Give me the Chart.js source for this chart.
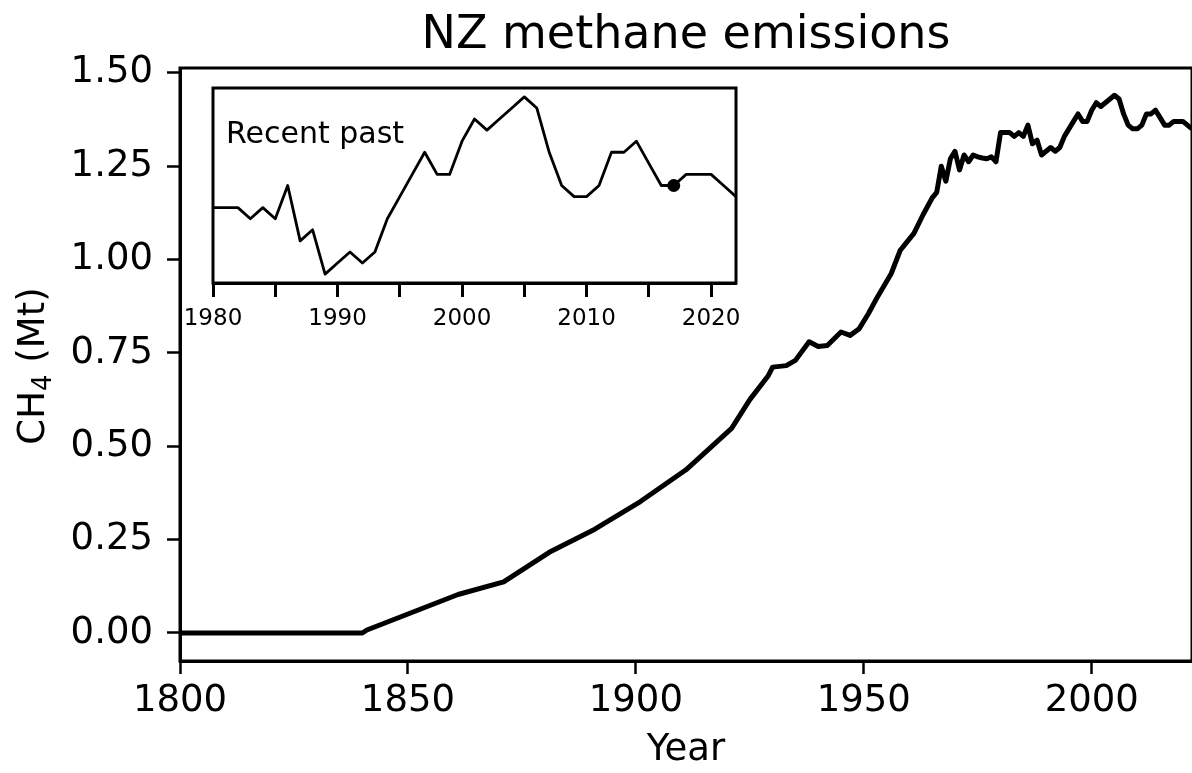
<!DOCTYPE html>
<html>
<head>
<meta charset="utf-8">
<script src="https://cdn.jsdelivr.net/npm/chart.js@4.4.1/dist/chart.umd.min.js"></script>
<style>
  body { margin: 0; background: #fff; }
  #wrap { position: relative; width: 1192px; height: 773px; }
  #main-chart { position: absolute; left: 0; top: 0; }
  #inset-chart { position: absolute; left: 170px; top: 78px; }
</style>
</head>
<body>
<div id="wrap">
  <canvas id="main-chart" width="1192" height="773"></canvas>
  <canvas id="inset-chart" width="600" height="262"></canvas>
</div>
<script>
// historic part of the series (Mt CH4)
const historicYears = [1800, 1840, 1841, 1861, 1871, 1881, 1891, 1901, 1911, 1921, 1925, 1929, 1930,
  1933, 1935, 1938, 1940, 1942, 1945, 1947, 1949, 1951, 1953, 1956, 1958, 1959, 1961, 1963,
  1965, 1966, 1967, 1968, 1969, 1970, 1971, 1972, 1973, 1974, 1975, 1976, 1977, 1978, 1979];
const historicValues = [0, 0, 0.008, 0.103, 0.137, 0.216, 0.278, 0.352, 0.437, 0.548, 0.625, 0.688, 0.712,
  0.716, 0.73, 0.78, 0.767, 0.77, 0.806, 0.797, 0.815, 0.855, 0.9, 0.962, 1.025, 1.04, 1.07, 1.12,
  1.165, 1.18, 1.25, 1.21, 1.27, 1.29, 1.24, 1.28, 1.262, 1.28, 1.275, 1.272, 1.27, 1.275, 1.262];

// recent past, yearly (also shown in the inset)
const recentYears = [1980, 1981, 1982, 1983, 1984, 1985, 1986, 1987, 1988, 1989, 1990, 1991, 1992,
  1993, 1994, 1995, 1996, 1997, 1998, 1999, 2000, 2001, 2002, 2003, 2004, 2005, 2006, 2007, 2008,
  2009, 2010, 2011, 2012, 2013, 2014, 2015, 2016, 2017, 2018, 2019, 2020, 2021, 2022];
const recentValues = [1.34, 1.34, 1.34, 1.33, 1.34, 1.33, 1.36, 1.31, 1.32, 1.28, 1.29, 1.30, 1.29,
  1.30, 1.33, 1.35, 1.37, 1.39, 1.37, 1.37, 1.40, 1.42, 1.41, 1.42, 1.43, 1.44, 1.43, 1.39, 1.36,
  1.35, 1.35, 1.36, 1.39, 1.39, 1.40, 1.38, 1.36, 1.36, 1.37, 1.37, 1.37, 1.36, 1.35];

const markerYear = 2017;
const markerValue = 1.36;

const yTicks = [0, 0.25, 0.5, 0.75, 1.0, 1.25, 1.5];
const xTicks = [1800, 1850, 1900, 1950, 2000];
const insetTicks = [1980, 1985, 1990, 1995, 2000, 2005, 2010, 2015, 2020];
const insetTickLabels = ["1980", "", "1990", "", "2000", "", "2010", "", "2020"];

const FONT = "'DejaVu Sans', sans-serif";

const toPoints = (xs, ys) => xs.map((x, i) => ({ x: x, y: ys[i] }));

const frame = {
  id: "frame",
  afterDraw(chart) {
    const { ctx, chartArea: a } = chart;
    ctx.save();
    ctx.strokeStyle = "#000";
    ctx.lineWidth = 3;
    ctx.strokeRect(a.left, a.top, a.right - a.left, a.bottom - a.top);
    ctx.restore();
  },
};

new Chart(document.getElementById("main-chart"), {
  type: "line",
  data: {
    datasets: [
      {
        data: toPoints(historicYears.concat(recentYears), historicValues.concat(recentValues)),
        borderColor: "#000",
        borderWidth: 5,
        borderJoinStyle: "round",
        pointRadius: 0,
        tension: 0,
      },
    ],
  },
  options: {
    responsive: false,
    animation: false,
    devicePixelRatio: 1,
    layout: { padding: { top: 68, left: 0, right: 0, bottom: 0 } },
    plugins: { legend: { display: false }, tooltip: { enabled: false } },
    scales: {
      x: {
        type: "linear",
        min: 1800,
        max: 2022,
        afterBuildTicks: (s) => { s.ticks = xTicks.map((v) => ({ value: v })); },
        afterFit: (s) => { s.height = 112; },
        ticks: {
          font: { family: FONT, size: 37 },
          color: "#000",
          padding: 5,
          maxRotation: 0,
          autoSkip: false,
          callback: (v) => String(v),
        },
        grid: { drawOnChartArea: false, tickLength: 13, tickWidth: 2.5, tickColor: "#000" },
        border: { color: "#000", width: 3 },
        title: {
          display: true,
          text: "Year",
          font: { family: FONT, size: 37 },
          color: "#000",
          padding: { top: 0, bottom: 0 },
        },
      },
      y: {
        type: "linear",
        min: -0.075,
        max: 1.513,
        afterBuildTicks: (s) => { s.ticks = yTicks.map((v) => ({ value: v })); },
        afterFit: (s) => { s.width = 180; },
        ticks: {
          font: { family: FONT, size: 37 },
          color: "#000",
          padding: 14,
          callback: (v) => v.toFixed(2),
        },
        grid: { drawOnChartArea: false, tickLength: 13, tickWidth: 2.5, tickColor: "#000" },
        border: { color: "#000", width: 3 },
      },
    },
  },
  plugins: [
    frame,
    {
      id: "mainTitle",
      afterDraw(chart) {
        const { ctx } = chart;
        ctx.save();
        ctx.font = "46px " + FONT;
        ctx.fillStyle = "#000";
        ctx.textAlign = "center";
        ctx.textBaseline = "alphabetic";
        ctx.fillText("NZ methane emissions", 686, 48);
        ctx.restore();
      },
    },
    {
      // y label "CH4 (Mt)" with a real-size subscript, like mathtext
      id: "yLabel",
      afterDraw(chart) {
        const { ctx } = chart;
        const big = "37px " + FONT;
        const small = "26px " + FONT;
        ctx.save();
        ctx.font = big;
        const wCH = ctx.measureText("CH").width;
        const wRest = ctx.measureText(" (Mt)").width;
        ctx.font = small;
        const w4 = ctx.measureText("4").width;
        const total = wCH + w4 + wRest;
        ctx.translate(44, 366);
        ctx.rotate(-Math.PI / 2);
        ctx.fillStyle = "#000";
        ctx.textAlign = "left";
        ctx.textBaseline = "alphabetic";
        let x = -total / 2;
        ctx.font = big;
        ctx.fillText("CH", x, 0);
        x += wCH;
        ctx.font = small;
        ctx.fillText("4", x, 7);
        x += w4;
        ctx.font = big;
        ctx.fillText(" (Mt)", x, 0);
        ctx.restore();
      },
    },
  ],
});

new Chart(document.getElementById("inset-chart"), {
  type: "line",
  data: {
    datasets: [
      {
        data: toPoints(recentYears, recentValues),
        borderColor: "#000",
        borderWidth: 2.8,
        borderJoinStyle: "round",
        pointRadius: 0,
        tension: 0,
      },
      {
        data: [{ x: markerYear, y: markerValue }],
        showLine: false,
        pointRadius: 6.5,
        pointBackgroundColor: "#000",
        pointBorderColor: "#000",
        pointBorderWidth: 0,
      },
    ],
  },
  options: {
    responsive: false,
    animation: false,
    devicePixelRatio: 1,
    layout: { padding: { top: 10, left: 43, right: 34, bottom: 0 } },
    plugins: { legend: { display: false }, tooltip: { enabled: false } },
    scales: {
      x: {
        type: "linear",
        min: 1980,
        max: 2022,
        afterBuildTicks: (s) => { s.ticks = insetTicks.map((v) => ({ value: v })); },
        afterFit: (s) => { s.height = 57; },
        ticks: {
          font: { family: FONT, size: 23 },
          color: "#000",
          padding: 8,
          maxRotation: 0,
          autoSkip: false,
          callback: (v) => insetTickLabels[insetTicks.indexOf(v)],
        },
        grid: { drawOnChartArea: false, tickLength: 14, tickWidth: 3, tickColor: "#000" },
        border: { color: "#000", width: 3 },
      },
      y: {
        display: false,
        min: 1.272,
        max: 1.448,
      },
    },
  },
  plugins: [
    {
      id: "insetBg",
      beforeDraw(chart) {
        const { ctx, chartArea: a } = chart;
        ctx.save();
        ctx.fillStyle = "#fff";
        ctx.fillRect(a.left, a.top, a.right - a.left, a.bottom - a.top);
        ctx.restore();
      },
    },
    frame,
    {
      id: "insetLabel",
      afterDraw(chart) {
        const { ctx } = chart;
        ctx.save();
        ctx.font = "30px " + FONT;
        ctx.fillStyle = "#000";
        ctx.textAlign = "left";
        ctx.textBaseline = "alphabetic";
        ctx.fillText("Recent past", 56, 65);
        ctx.restore();
      },
    },
  ],
});
</script>
</body>
</html>
